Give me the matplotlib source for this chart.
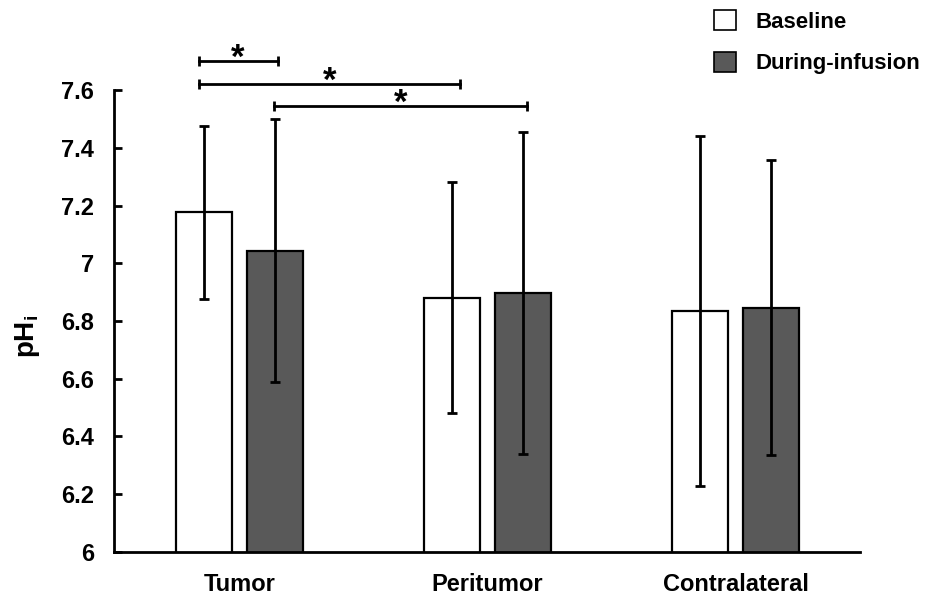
import matplotlib.pyplot as plt
import numpy as np
from matplotlib.patches import Patch

# --- data ---
regions = ['Tumor', 'Peritumor', 'Contralateral']
baseline = [7.177, 6.881, 6.836]
baseline_err = [0.30, 0.40, 0.606]
infusion = [7.044, 6.898, 6.846]
infusion_err = [0.455, 0.557, 0.51]
yticks = [6, 6.2, 6.4, 6.6, 6.8, 7, 7.2, 7.4, 7.6]

# significance brackets: (x start, x end, y level)
brackets = [(-0.165, 0.154, 7.70), (-0.165, 0.889, 7.62), (0.139, 1.160, 7.545)]

plt.rcParams['font.family'] = ['Liberation Sans', 'DejaVu Sans']
plt.rcParams['font.weight'] = 'bold'

fig = plt.figure(figsize=(9.25, 5.95), dpi=100)
ax = fig.add_axes([0.1232, 0.0723, 0.8065, 0.7764])

x = np.arange(len(regions))
w = 0.228
off = 0.143
GRAY = '#595959'

ax.bar(x - off, baseline, w, color='white', edgecolor='black',
       linewidth=1.6, zorder=2, label='Baseline')
ax.bar(x + off, infusion, w, color=GRAY, edgecolor='black',
       linewidth=1.6, zorder=2, label='During-infusion')
ax.errorbar(x - off, baseline, yerr=baseline_err, fmt='none', ecolor='black',
            elinewidth=2, capsize=3.3, capthick=2, zorder=3)
ax.errorbar(x + off, infusion, yerr=infusion_err, fmt='none', ecolor='black',
            elinewidth=2, capsize=3.3, capthick=2, zorder=3)

ax.set_xlim(-0.506, 2.502)
ax.set_ylim(6, 7.6)
ax.set_yticks(yticks)
ax.set_yticklabels([f'{t:g}' for t in yticks])
ax.set_xticks(x)
ax.set_xticklabels(regions)
ax.tick_params(axis='y', direction='in', length=6, width=2, labelsize=17, pad=14.5)
ax.tick_params(axis='x', length=0, labelsize=17, pad=15)
for s in ['top', 'right']:
    ax.spines[s].set_visible(False)
for s in ['left', 'bottom']:
    ax.spines[s].set_linewidth(2)
ax.set_ylabel(r'pH$_\mathregular{i}$', fontsize=20, fontweight='bold')
ax.yaxis.set_label_coords(-0.0965, 0.4675)

# significance markers
for x0, x1, yl in brackets:
    ax.plot([x0, x1], [yl, yl], color='black', lw=2, clip_on=False,
            marker='|', markersize=7, markeredgewidth=2)
    ax.annotate('*', xy=((x0 + x1) / 2, yl), xytext=(0, -5), textcoords='offset points',
                ha='center', va='baseline', fontsize=25, fontweight='bold',
                annotation_clip=False)

handles = [Patch(facecolor='white', edgecolor='black', linewidth=1.2),
           Patch(facecolor=GRAY, edgecolor='black', linewidth=1.2)]
fig.legend(handles, ['Baseline', 'During-infusion'], loc='upper left',
           bbox_to_anchor=(0.7505, 1.016), frameon=False, fontsize=16,
           handlelength=1.0, handleheight=1.0, labelspacing=0.85, handletextpad=0.85)

fig.savefig('out.png', dpi=100)
